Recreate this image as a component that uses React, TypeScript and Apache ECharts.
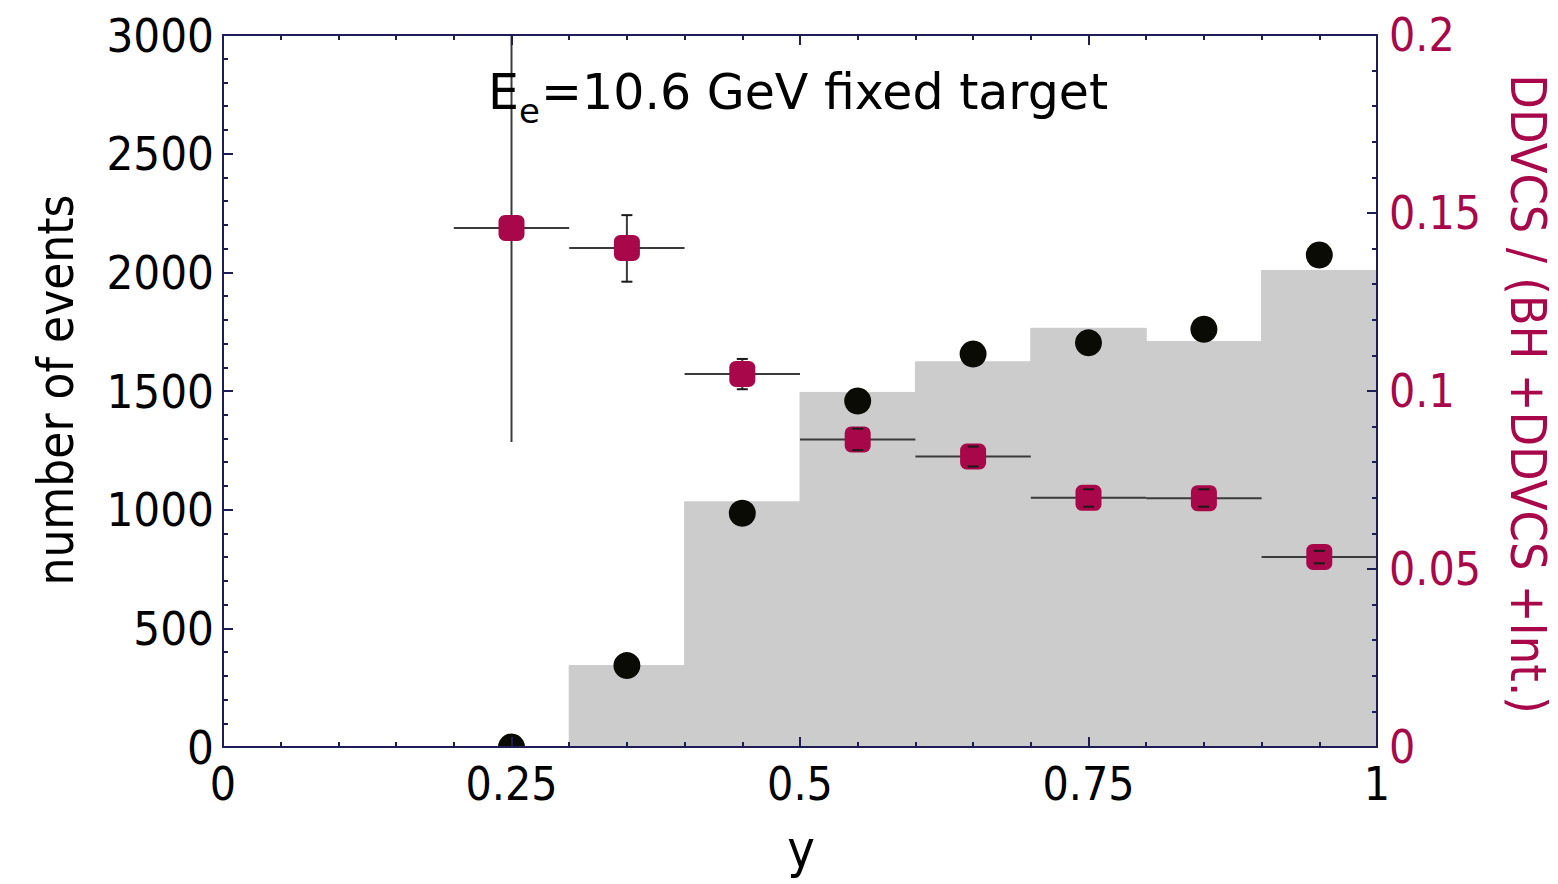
import React, { useEffect, useRef } from "react";
import * as echarts from "echarts";

// Histogram bins (gray): lower edge, upper edge, number of events
const binLow = [0.3, 0.4, 0.5, 0.6, 0.7, 0.8, 0.9];
const binHigh = [0.4, 0.5, 0.6, 0.7, 0.8, 0.9, 1.0];
const histCounts = [343, 1033, 1494, 1623, 1764, 1709, 2008];

// Black dots: number of events
const dotX = [0.25, 0.35, 0.45, 0.55, 0.65, 0.75, 0.85, 0.95];
const dotCounts = [0, 343, 985, 1458, 1656, 1703, 1760, 2073];

// Red squares: DDVCS / (BH + DDVCS + Int.) with error bars
const ratioX = [0.25, 0.35, 0.45, 0.55, 0.65, 0.75, 0.85, 0.95];
const ratioXLow = [0.2, 0.3, 0.4, 0.5, 0.6, 0.7, 0.8, 0.9];
const ratioXHigh = [0.3, 0.4, 0.5, 0.6, 0.7, 0.8, 0.9, 1.0];
const ratioValues = [0.1458, 0.1402, 0.1048, 0.0864, 0.0816, 0.07, 0.0699, 0.0534];
const ratioLow = [0.0857, 0.1307, 0.1005, 0.0834, 0.0788, 0.0675, 0.0675, 0.0516];
const ratioHigh = [0.2, 0.1494, 0.109, 0.0894, 0.0844, 0.0724, 0.0724, 0.0551];

// Axes
const xMin = 0, xMax = 1, xStep = 0.25;
const leftMin = 0, leftMax = 3000, leftStep = 500;
const rightMin = 0, rightMax = 0.2, rightStep = 0.05;

const titleMain = "E";
const titleSub = "e";
const titleRest = "=10.6 GeV fixed target";
const xName = "y";
const leftName = "number of events";
const rightName = "DDVCS / (BH +DDVCS +Int.)";

const NAVY = "#1e1e55";
const RED = "#a8084a";
const TICK_FONT = "'DejaVu Sans Condensed', 'DejaVu Sans', sans-serif";

function fmt(v: number) {
  return String(+Number(v).toFixed(3));
}

export default function App() {
  const ref = useRef<HTMLDivElement>(null);

  useEffect(() => {
    if (!ref.current) return;
    const chart = echarts.init(ref.current, undefined, { renderer: "svg" });

    const axisCommon = {
      axisLine: { show: true, onZero: false, lineStyle: { color: NAVY, width: 2 } },
      axisTick: { show: true, inside: true, length: 10, lineStyle: { color: NAVY, width: 2 } },
      minorTick: { show: true, splitNumber: 5, length: 5, lineStyle: { color: NAVY, width: 2 } },
      splitLine: { show: false },
      minorSplitLine: { show: false },
      z: 10,
    };

    const histData = binLow.map((lo, i) => [lo, binHigh[i], histCounts[i]]);
    const dotData = dotX.map((x, i) => [x, dotCounts[i]]);
    const errData = ratioX.map((x, i) => [
      x,
      ratioValues[i],
      ratioXLow[i],
      ratioXHigh[i],
      ratioLow[i],
      ratioHigh[i],
    ]);
    const sqData = ratioX.map((x, i) => [x, ratioValues[i]]);

    const option: any = {
      animation: false,
      grid: { left: 223, top: 35, width: 1154, height: 712, containLabel: false },
      xAxis: [
        {
          ...axisCommon,
          type: "value",
          position: "bottom",
          min: xMin,
          max: xMax,
          interval: xStep,
          axisLabel: {
            show: true,
            color: "#000",
            fontSize: 46,
            fontFamily: TICK_FONT,
            margin: 14,
            formatter: fmt,
          },
        },
        {
          ...axisCommon,
          type: "value",
          position: "top",
          min: xMin,
          max: xMax,
          interval: xStep,
          axisLabel: { show: false },
        },
      ],
      yAxis: [
        {
          ...axisCommon,
          type: "value",
          position: "left",
          min: leftMin,
          max: leftMax,
          interval: leftStep,
          axisLabel: {
            show: true,
            color: "#000",
            fontSize: 47,
            fontFamily: TICK_FONT,
            margin: 9,
            formatter: fmt,
          },
        },
        {
          ...axisCommon,
          type: "value",
          position: "right",
          min: rightMin,
          max: rightMax,
          interval: rightStep,
          axisLabel: {
            show: true,
            color: RED,
            fontSize: 46,
            fontFamily: TICK_FONT,
            margin: 12,
            formatter: fmt,
          },
        },
      ],
      series: [
        {
          type: "custom",
          name: "hist",
          xAxisIndex: 0,
          yAxisIndex: 0,
          z: 1,
          encode: { x: [0, 1], y: 2 },
          data: histData,
          renderItem: (params: any, api: any) => {
            const p1 = api.coord([api.value(0), api.value(2)]);
            const p2 = api.coord([api.value(1), 0]);
            return {
              type: "rect",
              shape: { x: p1[0], y: p1[1], width: p2[0] - p1[0], height: p2[1] - p1[1] },
              style: { fill: "#cccccc", stroke: "#cccccc", lineWidth: 1 },
            };
          },
        },
        {
          type: "custom",
          name: "dots",
          xAxisIndex: 0,
          yAxisIndex: 0,
          z: 2,
          encode: { x: 0, y: 1 },
          data: dotData,
          renderItem: (params: any, api: any) => {
            const p = api.coord([api.value(0), api.value(1)]);
            const cs = params.coordSys;
            return {
              type: "circle",
              shape: { cx: p[0], cy: p[1], r: 13.5 },
              style: { fill: "#0b0b06" },
              clipPath: {
                type: "rect",
                shape: { x: cs.x, y: cs.y, width: cs.width, height: cs.height },
              },
            };
          },
        },
        {
          type: "custom",
          name: "errlines",
          xAxisIndex: 0,
          yAxisIndex: 1,
          z: 3,
          encode: { x: [0, 2, 3], y: [1, 4, 5] },
          data: errData,
          renderItem: (params: any, api: any) => {
            const x = api.value(0);
            const y = api.value(1);
            const pl = api.coord([api.value(2), y]);
            const pr = api.coord([api.value(3), y]);
            const pb = api.coord([x, api.value(4)]);
            const pt = api.coord([x, api.value(5)]);
            const st = { stroke: "#3a3a3a", lineWidth: 2 };
            return {
              type: "group",
              children: [
                { type: "line", shape: { x1: pl[0], y1: pl[1], x2: pr[0], y2: pr[1] }, style: st },
                { type: "line", shape: { x1: pb[0], y1: pb[1], x2: pt[0], y2: pt[1] }, style: st },
              ],
            };
          },
        },
        {
          type: "scatter",
          name: "ratio",
          xAxisIndex: 0,
          yAxisIndex: 1,
          z: 4,
          symbol: "roundRect",
          symbolSize: 26,
          itemStyle: { color: RED, opacity: 1 },
          emphasis: { disabled: true },
          data: sqData,
        },
        {
          type: "custom",
          name: "caps",
          xAxisIndex: 0,
          yAxisIndex: 1,
          z: 5,
          encode: { x: 0, y: [1, 4, 5] },
          data: errData,
          renderItem: (params: any, api: any) => {
            const x = api.value(0);
            const lo = api.value(4);
            const hi = api.value(5);
            if (hi - lo > 0.03) return { type: "group", children: [] };
            const pb = api.coord([x, lo]);
            const pt = api.coord([x, hi]);
            const st = { stroke: "#1a1a1a", lineWidth: 2 };
            return {
              type: "group",
              children: [
                { type: "line", shape: { x1: pb[0] - 5.5, y1: pb[1], x2: pb[0] + 5.5, y2: pb[1] }, style: st },
                { type: "line", shape: { x1: pt[0] - 5.5, y1: pt[1], x2: pt[0] + 5.5, y2: pt[1] }, style: st },
              ],
            };
          },
        },
      ],
      graphic: [
        {
          type: "text",
          x: 488,
          y: 92,
          z: 20,
          style: {
            text: titleMain,
            fontSize: 49,
            fontFamily: "'DejaVu Sans', sans-serif",
            fill: "#000",
            align: "left",
            verticalAlign: "middle",
          },
        },
        {
          type: "text",
          x: 519,
          y: 111,
          z: 20,
          style: {
            text: titleSub,
            fontSize: 34,
            fontFamily: "'DejaVu Sans', sans-serif",
            fill: "#000",
            align: "left",
            verticalAlign: "middle",
          },
        },
        {
          type: "text",
          x: 541,
          y: 92,
          z: 20,
          style: {
            text: titleRest,
            fontSize: 49,
            fontFamily: "'DejaVu Sans', sans-serif",
            fill: "#000",
            align: "left",
            verticalAlign: "middle",
          },
        },
        {
          type: "text",
          x: 801,
          y: 849,
          z: 20,
          style: {
            text: xName,
            fontSize: 52,
            fontFamily: TICK_FONT,
            fill: "#000",
            align: "center",
            verticalAlign: "middle",
          },
        },
        {
          type: "text",
          x: 56,
          y: 390,
          rotation: Math.PI / 2,
          z: 20,
          style: {
            text: leftName,
            fontSize: 49,
            fontFamily: "'Liberation Sans Narrow', 'DejaVu Sans Condensed', sans-serif",
            fill: "#000",
            align: "center",
            verticalAlign: "middle",
          },
        },
        {
          type: "text",
          x: 1528,
          y: 394,
          rotation: -Math.PI / 2,
          z: 20,
          style: {
            text: rightName,
            fontSize: 50,
            fontFamily: TICK_FONT,
            fill: RED,
            align: "center",
            verticalAlign: "middle",
          },
        },
      ],
    };

    chart.setOption(option);
    return () => {
      chart.dispose();
    };
  }, []);

  return (
    <div
      ref={ref}
      style={{ position: "fixed", left: 0, top: 0, width: 1558, height: 884, background: "#fff" }}
    />
  );
}
